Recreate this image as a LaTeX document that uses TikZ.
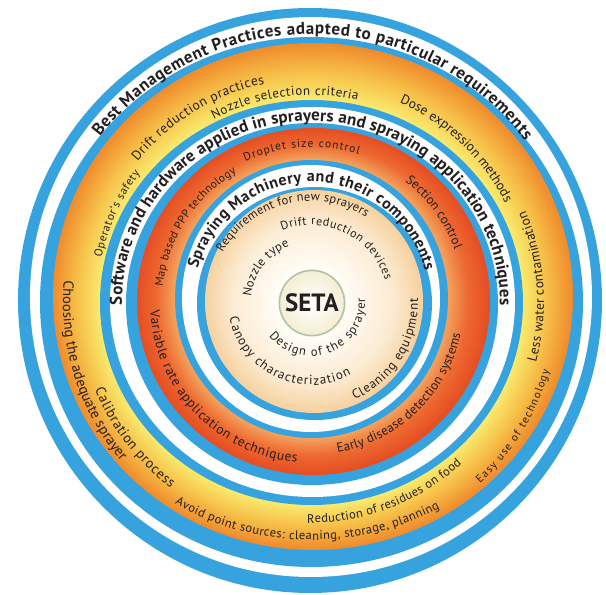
\documentclass[tikz,border=0pt]{standalone}
\usepackage{fontspec}
\setmainfont{PT Sans}
\usetikzlibrary{decorations.text}
\definecolor{ringblue}{RGB}{55,163,222}
\definecolor{cOut}{RGB}{240,140,45}
\definecolor{cMid}{RGB}{246,192,72}
\definecolor{cIn}{RGB}{250,236,112}
\definecolor{fOut}{RGB}{230,78,35}
\definecolor{fMid}{RGB}{237,105,48}
\definecolor{fIn}{RGB}{244,165,95}
\definecolor{hOut}{RGB}{247,210,160}
\definecolor{hMid}{RGB}{252,236,212}
\definecolor{hIn}{RGB}{255,253,248}
\definecolor{setafill}{RGB}{244,238,212}
\definecolor{setaedge}{RGB}{178,196,160}
\definecolor{txt}{RGB}{35,31,32}
% gradient band between two ellipses (outer -> inner), colours gA -> gB
\newcommand\gradband[8]{%
  \foreach \i in {0,...,24}{%
    \pgfmathsetmacro\gx{#1+(#5-#1)*\i/24}%
    \pgfmathsetmacro\gy{#2+(#6-#2)*\i/24}%
    \pgfmathsetmacro\grx{#3+(#7-#3)*\i/24}%
    \pgfmathsetmacro\gry{#4+(#8-#4)*\i/24}%
    \pgfmathtruncatemacro\gp{100*\i/24}%
    \fill[gB!\gp!gA] (\gx,\gy) ellipse [x radius=\grx, y radius=\gry];
  }}
% text fitted on an (elliptical) arc: x radius, y radius, start, end, font, text
\newcommand\arctext[6]{%
  \path[decorate, decoration={text along path, text align=fit to path,
    text color=txt, text={|#5|#6}}]
    (#3:#1 and #2) arc[start angle=#3, end angle=#4, x radius=#1, y radius=#2];}
\newcommand\fs[1]{\fontsize{#1}{#1}\selectfont}
\begin{document}
\begin{tikzpicture}[x=1pt,y=1pt]
\useasboundingbox (-311,-293) rectangle (295,302);
% outer rings
\fill[ringblue] (-1,1.5) ellipse [x radius=292, y radius=292.5];
\fill[white] (0,5) ellipse [x radius=281, y radius=280];
\fill[ringblue] (0.5,0) ellipse [x radius=271.5, y radius=265];
% band C
\colorlet{gA}{cOut}\colorlet{gB}{cMid}
\gradband{2}{5.5}{260}{253.5}{1.25}{2.5}{235.75}{228}
\colorlet{gA}{cMid}\colorlet{gB}{cIn}
\gradband{1.25}{2.5}{235.75}{228}{0.5}{-0.5}{211.5}{202.5}
\fill[ringblue] (0.5,-0.5) ellipse [x radius=211.5, y radius=202.5];
\fill[white] (1.5,0) ellipse [x radius=202.5, y radius=195];
\fill[ringblue] (1,-2) ellipse [x radius=186, y radius=181];
% band F
\colorlet{gA}{fOut}\colorlet{gB}{fMid}
\gradband{2.5}{0.5}{176.5}{173.5}{1.5}{1.75}{156.5}{156.25}
\colorlet{gA}{fMid}\colorlet{gB}{fIn}
\gradband{1.5}{1.75}{156.5}{156.25}{0.5}{3}{136.5}{139}
\fill[ringblue] (0.5,3) ellipse [x radius=136.5, y radius=139];
\fill[white] (0,3.5) ellipse [x radius=129, y radius=133.5];
\fill[ringblue] (3.5,-1.5) ellipse [x radius=117.5, y radius=116.5];
% inner disk
\colorlet{gA}{hOut}\colorlet{gB}{hMid}
\gradband{3}{0.5}{109}{111.5}{1.5}{-0.25}{80}{81}
\colorlet{gA}{hMid}\colorlet{gB}{hIn}
\gradband{1.5}{-0.25}{80}{81}{0}{-1}{35}{35}
\node[circle, minimum size=62pt, draw=setaedge, line width=1.6pt,
  inner color=white, outer color=setafill, text=txt,
  font=\bfseries\fs{25}] (seta) at (1,-1) {SETA};
% titles
\arctext{268}{268}{142}{37}{\bfseries\fs{17}}{Best Management Practices adapted to particular requirements}
\arctext{189}{181}{181}{-1}{\bfseries\fs{17}}{Software and hardware applied in sprayers and spraying application techniques}
\arctext{118}{120}{164}{15}{\bfseries\fs{16}}{Spraying Machinery and their components}
% band C texts
\arctext{214}{214}{168}{143}{\fs{11.5}}{Operator's safety}
\arctext{223}{223}{141}{102}{\fs{13.5}}{Drift reduction practices}
\arctext{207}{207}{118}{77}{\fs{13}}{Nozzle selection criteria}
\arctext{218}{218}{66}{27}{\fs{13.5}}{Dose expression methods}
\arctext{248}{248}{175}{220}{\fs{14.5}}{Choosing the adequate sprayer}
\arctext{233}{233}{202}{233}{\fs{14}}{Calibration process}
\arctext{257}{238}{238}{300}{\fs{12.5}}{Avoid point sources: cleaning, storage, planning}
\arctext{221}{221}{269}{313}{\fs{12.5}}{Reduction of residues on food}
\arctext{248}{248}{313}{344}{\fs{11}}{Easy use of technology}
\arctext{233}{233}{-15}{23}{\fs{13.5}}{Less water contamination}
% band F texts
\arctext{155}{155}{115}{72}{\fs{11.5}}{Droplet size control}
\arctext{149}{149}{174}{120}{\fs{11.5}}{Map based PPP technology}
\arctext{153}{153}{52}{20}{\fs{13}}{Section control}
\arctext{161}{161}{183}{265}{\fs{13.5}}{Variable rate application techniques}
\arctext{153}{153}{280}{348}{\fs{13}}{Early disease detection systems}
% inner texts
\arctext{101}{101}{151}{57}{\fs{12.5}}{Requirement for new sprayers}
\arctext{77}{77}{112}{16}{\fs{12}}{Drift reduction devices}
\arctext{60}{60}{175}{111}{\fs{12.5}}{Nozzle type}
\arctext{54}{54}{219}{364}{\fs{12.5}}{Design of the sprayer}
\arctext{83}{83}{191}{299}{\fs{13}}{Canopy characterization}
\arctext{107}{107}{294}{362}{\fs{13}}{Cleaning equipment}
\end{tikzpicture}
\end{document}
